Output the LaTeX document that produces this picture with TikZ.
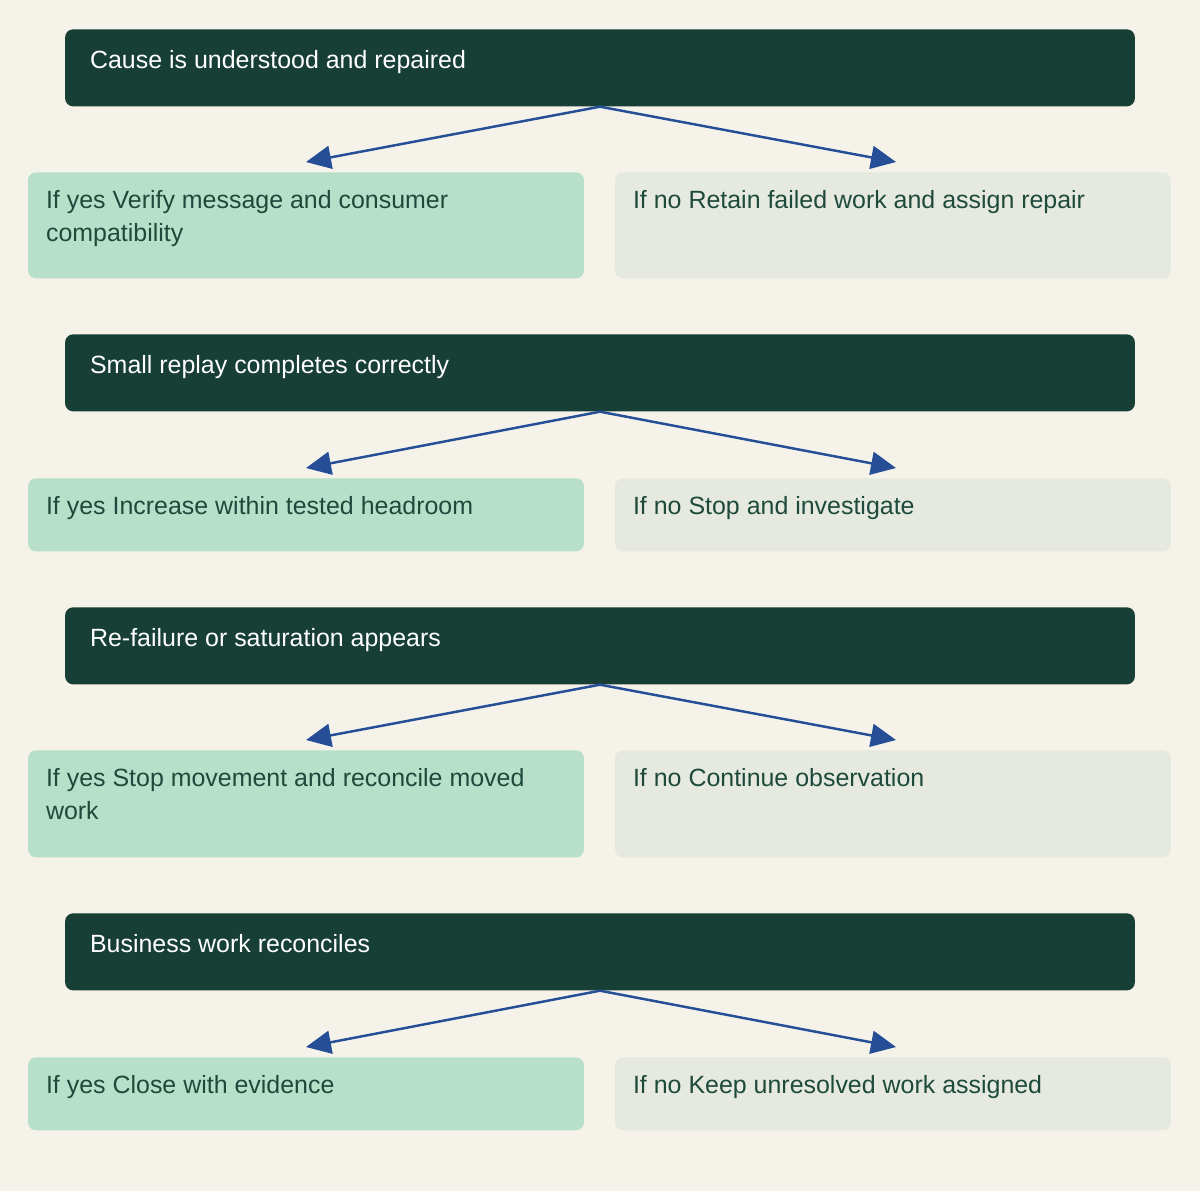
\documentclass[tikz,border=0pt]{standalone}
\usepackage{fontspec}
\setmainfont{Liberation Sans}
\usetikzlibrary{arrows.meta}

\definecolor{bgcream}{HTML}{F5F2EA}
\definecolor{darkgreen}{HTML}{173F35}
\definecolor{mintbox}{HTML}{B8DFCA}
\definecolor{greybox}{HTML}{E5E9E0}
\definecolor{arrowblue}{HTML}{254E97}
\definecolor{boxtext}{HTML}{1E4A3C}

\tikzset{
  question/.style={rectangle, fill=darkgreen, rounded corners=0.16cm, inner sep=0pt,
    minimum width=21.4cm, minimum height=1.54cm, anchor=north},
  yesbox/.style={rectangle, fill=mintbox, rounded corners=0.16cm, inner sep=0pt,
    minimum width=11.12cm, anchor=north},
  nobox/.style={rectangle, fill=greybox, rounded corners=0.16cm, inner sep=0pt,
    minimum width=11.12cm, anchor=north},
  qlabel/.style={anchor=north west, inner sep=0pt, text=white, align=left,
    font=\fontsize{14.2}{18.8}\selectfont, xshift=0.5cm, yshift=-0.42cm},
  alabel/.style={anchor=north west, inner sep=0pt, text=boxtext, align=left,
    font=\fontsize{14.2}{18.8}\selectfont, xshift=0.36cm, yshift=-0.36cm},
  branch/.style={draw=arrowblue, line width=1.4pt, -{Triangle[length=0.5cm, width=0.46cm]}}
}

\begin{document}
\begin{tikzpicture}[x=0.02cm, y=-0.02cm]
  \path[use as bounding box, fill=bgcream] (0,0) rectangle (1200,1191);

  % First check
  \node[question, label={[qlabel]north west:Cause is understood and repaired}] (cause) at (600,29) {};
  \node[yesbox, minimum height=2.12cm, label={[alabel]north west:{If yes Verify message and consumer\\compatibility}}] (verify) at (306,172) {};
  \node[nobox, minimum height=2.12cm, label={[alabel]north west:If no Retain failed work and assign repair}] (retain) at (893,172) {};

  % Second check
  \node[question, label={[qlabel]north west:Small replay completes correctly}] (replay) at (600,334) {};
  \node[yesbox, minimum height=1.46cm, label={[alabel]north west:If yes Increase within tested headroom}] (increase) at (306,478) {};
  \node[nobox, minimum height=1.46cm, label={[alabel]north west:If no Stop and investigate}] (stop) at (893,478) {};

  % Third check
  \node[question, label={[qlabel]north west:Re-failure or saturation appears}] (refail) at (600,607) {};
  \node[yesbox, minimum height=2.14cm, label={[alabel]north west:{If yes Stop movement and reconcile moved\\work}}] (reconcile) at (306,750) {};
  \node[nobox, minimum height=2.14cm, label={[alabel]north west:If no Continue observation}] (observe) at (893,750) {};

  % Fourth check
  \node[question, label={[qlabel]north west:Business work reconciles}] (business) at (600,913) {};
  \node[yesbox, minimum height=1.46cm, label={[alabel]north west:If yes Close with evidence}] (close) at (306,1057) {};
  \node[nobox, minimum height=1.46cm, label={[alabel]north west:If no Keep unresolved work assigned}] (keep) at (893,1057) {};

  % Yes / no branches
  \foreach \q/\a/\b in {cause/verify/retain, replay/increase/stop, refail/reconcile/observe, business/close/keep} {
    \draw[branch] (\q.south) -- ([yshift=0.2cm]\a.north);
    \draw[branch] (\q.south) -- ([xshift=0.06cm, yshift=0.2cm]\b.north);
  }
\end{tikzpicture}
\end{document}
